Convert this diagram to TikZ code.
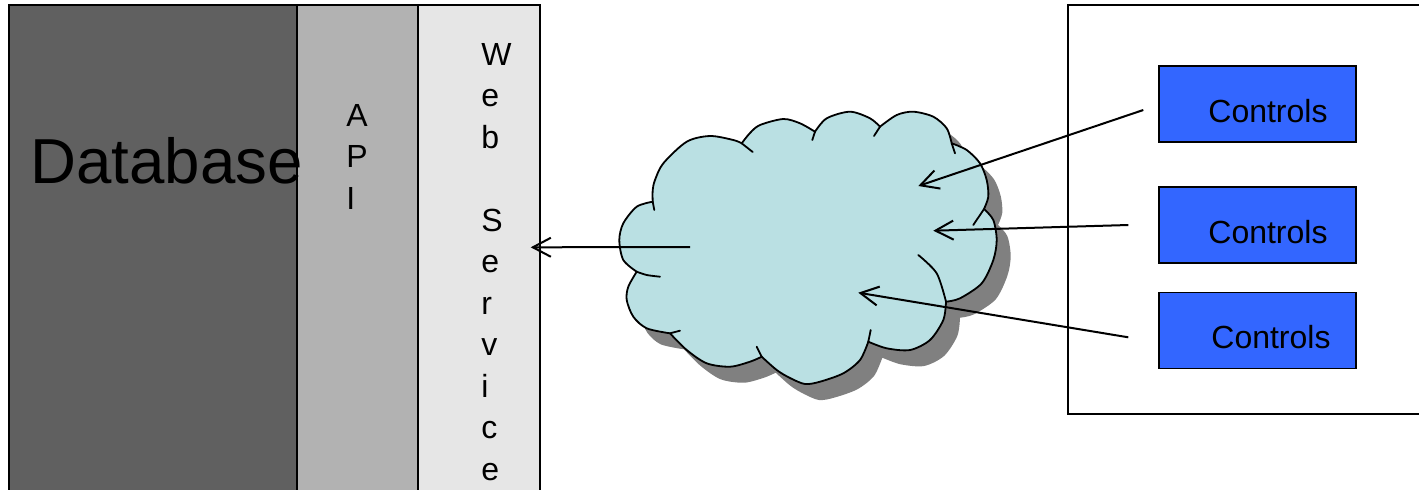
\documentclass[tikz,border=0pt]{standalone}
\usepackage{fontspec}
\setmainfont{Liberation Sans}
\usetikzlibrary{arrows.meta}

\definecolor{dbgray}{HTML}{606060}
\definecolor{apigray}{HTML}{B2B2B2}
\definecolor{wsgray}{HTML}{E6E6E6}
\definecolor{ctlblue}{HTML}{3366FF}
\definecolor{netblue}{HTML}{BAE0E3}
\definecolor{shadowgray}{HTML}{808080}

% outline of the network cloud, in pixel units
\newcommand{\netcloud}{(652.7,201.7)
  -- plot[smooth] coordinates {(652.7,201.7) (652.7,190) (655,180) (663.3,163.3) (686.7,141.7) (710,136) (733.3,140) (741.7,143.3)}
  -- plot[smooth] coordinates {(741.7,143.3) (750,133) (760,125) (783.3,119) (800,123.3) (815,131.7)}
  -- plot[smooth] coordinates {(815,131.7) (826.7,118.3) (850,111.7) (870,118.3) (880,126.7)}
  -- plot[smooth] coordinates {(880,126.7) (896.7,115) (913.3,111.7) (933.3,116.7) (946.7,128.3) (951.7,143.3)}
  -- plot[smooth] coordinates {(951.7,143.3) (966.7,150) (980,163.3) (986.7,180) (988.3,196.7) (984,209)}
  -- plot[smooth] coordinates {(984,209) (993.3,220) (996.7,240) (993.3,260) (981.7,283.3) (960,298.3) (946,301.7)}
  -- plot[smooth] coordinates {(946,301.7) (943.3,320) (930,340) (910,350) (886.7,348.3) (868.3,341.7)}
  -- plot[smooth] coordinates {(868.3,341.7) (860,360) (843.3,373.3) (820,381.7) (805,384) (790,378) (776.7,370) (761.7,356.7)}
  -- plot[smooth] coordinates {(761.7,356.7) (750,361.7) (730,366.7) (706.7,363.3) (686.7,350) (670,333.3)}
  -- plot[smooth] coordinates {(670,333.3) (646.7,328.3) (633.3,316.7) (626.7,300) (628.3,286.7) (636.7,271.7)}
  -- plot[smooth] coordinates {(636.7,271.7) (623.3,260) (619.3,240) (623.3,223.3) (636.7,206.7) (652.7,201.7)}
  -- cycle}

\begin{document}
\begin{tikzpicture}[x=0.5pt, y=-0.5pt,
    layer/.style = {draw, line width=0.6pt, rectangle, inner sep=0pt, outer sep=0pt},
    ctlbox/.style = {layer, fill=ctlblue, minimum width=98.5pt, minimum height=38pt},
    ctltext/.style = {font=\fontsize{16}{19}\selectfont, anchor=base west, inner sep=0pt},
    ltr/.style = {font=\fontsize{16}{19}\selectfont, anchor=base west, inner sep=0pt},
    cloudline/.style = {line width=0.9pt, line cap=round},
    link/.style = {line width=1pt, -{Straight Barb[length=9pt, width=9.5pt]}}]
    \useasboundingbox (0,0) rectangle (1419,489);
    \clip (0,0) rectangle (1419,489);

    % server side
    \node[layer, fill=dbgray,  minimum width=144pt,  minimum height=245pt] (db)  at (153,250)   {};
    \node[layer, fill=apigray, minimum width=60.5pt, minimum height=245pt] (api) at (357.5,250) {};
    \node[layer, fill=wsgray,  minimum width=61pt,   minimum height=245pt] (ws)  at (479,250)   {};
    \node[font=\fontsize{31.8}{38}\selectfont, anchor=base west, inner sep=0pt] (dbtxt) at (30,183) {Database};
    \foreach \ch/\i in {A/0,P/1,I/2}
        \node[ltr] (api\i) at (346,126+41.5*\i) {\ch};
    \foreach \ch/\i in {W/0,e/1,b/2,S/4,e/5,r/6,v/7,i/8,c/9,e/10}
        \node[ltr] (ws\i) at (481,65+41.5*\i) {\ch};

    % client side
    \node[layer, minimum width=181pt, minimum height=204.5pt] (client) at (1249,209.5) {};
    \node[ctlbox] (ctl1) at (1257.5,104)   {};
    \node[ctlbox] (ctl2) at (1257.5,225)   {};
    \node[ctlbox] (ctl3) at (1257.5,330.5) {};
    \node[ctltext] (ctl1txt) at (1208,122) {Controls};
    \node[ctltext] (ctl2txt) at (1208,243) {Controls};
    \node[ctltext] (ctl3txt) at (1211,348) {Controls};

    % network
    \begin{scope}[shift={(14,16)}]
        \fill[shadowgray] \netcloud;
    \end{scope}
    \filldraw[fill=netblue, cloudline] \netcloud;
    \draw[cloudline] (652.7,201.7) -- (654.3,210);
    \draw[cloudline] (741.7,143.3) -- (752.7,152);
    \draw[cloudline] (815,131.7) -- (812.3,140);
    \draw[cloudline] (880,126.7) -- (874,136);
    \draw[cloudline] (951.7,143.3) -- (955,153.3);
    \draw[cloudline] (984,209) -- (973.3,225);
    \draw[cloudline] plot[smooth] coordinates {(946,301.7) (936.7,273.3) (918.3,255)};
    \draw[cloudline] (868.3,341.7) -- (870.7,330);
    \draw[cloudline] (761.7,356.7) -- (756.7,346.7);
    \draw[cloudline] (670,333.3) -- (680,330.7);
    \draw[cloudline] plot[smooth] coordinates {(636.7,271.7) (646.7,275) (660,276.7)};

    % requests
    \coordinate (netout) at (690,247);
    \coordinate (wsin)   at (530.7,247.3);
    \coordinate (c1out)  at (1143.3,110);
    \coordinate (c1in)   at (918.3,186);
    \coordinate (c2out)  at (1128.3,225);
    \coordinate (c2in)   at (933.3,230.7);
    \coordinate (c3out)  at (1128.3,337.3);
    \coordinate (c3in)   at (858.3,292.7);
    \draw[link] (netout) -- (wsin);
    \draw[link] (c1out) -- (c1in);
    \draw[link] (c2out) -- (c2in);
    \draw[link] (c3out) -- (c3in);
\end{tikzpicture}
\end{document}
